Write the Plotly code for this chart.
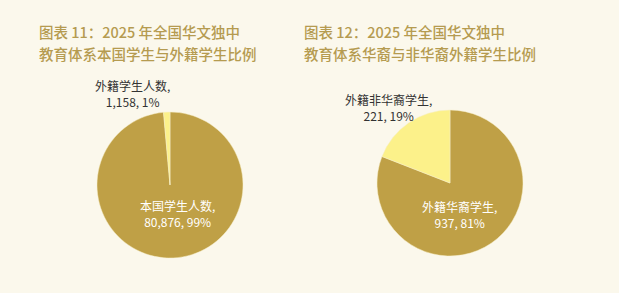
import plotly.graph_objects as go

W, H = 619, 293

# Data
labels1 = ["本国学生人数", "外籍学生人数"]
values1 = [80876, 1158]
pct1 = [99, 1]
labels2 = ["外籍华裔学生", "外籍非华裔学生"]
values2 = [937, 221]
pct2 = [81, 19]
title1_lines = ["图表 11：2025 年全国华文独中", "教育体系本国学生与外籍学生比例"]
title2_lines = ["图表 12：2025 年全国华文独中", "教育体系华裔与非华裔外籍学生比例"]

BROWN = "#BFA046"
YELLOW = "#FCF18A"
BG = "#FBF8EC"
TITLE_C = "#B59B50"
FONT = "Noto Sans CJK SC"


def px_domain(cx, cy, r):
    return dict(x=[(cx - r) / W, (cx + r) / W], y=[(H - (cy + r)) / H, (H - (cy - r)) / H])


fig = go.Figure()
fig.add_trace(go.Pie(labels=labels1, values=values1, sort=False, direction="clockwise", rotation=0,
                     marker=dict(colors=[BROWN, YELLOW], line=dict(color="#F6EFC8", width=0.5)),
                     textinfo="none", hoverinfo="label+value+percent", showlegend=False,
                     domain=px_domain(170, 185, 73)))
fig.add_trace(go.Pie(labels=labels2, values=values2, sort=False, direction="clockwise", rotation=0,
                     marker=dict(colors=[BROWN, YELLOW], line=dict(color="#F6EFC8", width=0.5)),
                     textinfo="none", hoverinfo="label+value+percent", showlegend=False,
                     domain=px_domain(450, 183, 73)))


def fmt(lbl, v, p):
    return f"{lbl},<br>{v:,}, {p}%"


ann = []
# title annotations (one per line)
for x0, lines in [(37, title1_lines), (302, title2_lines)]:
    for yc, t in zip([31, 53], lines):
        ann.append(dict(x=x0 / W, y=1 - yc / H, xref="paper", yref="paper", xanchor="left", yanchor="middle",
                        text=t, showarrow=False, align="left",
                        font=dict(family=FONT, size=14.5, color=TITLE_C, weight=500)))

# slice labels (pixel centers)
label_pos = [
    (labels1[0], values1[0], pct1[0], 177, 213, "#FFFFFF"),
    (labels1[1], values1[1], pct1[1], 132, 93, "#333333"),
    (labels2[0], values2[0], pct2[0], 460, 214, "#FFFFFF"),
    (labels2[1], values2[1], pct2[1], 388, 107, "#333333"),
]
for lbl, v, p, x, y, c in label_pos:
    ann.append(dict(x=x / W, y=1 - y / H, xref="paper", yref="paper", xanchor="center", yanchor="middle",
                    text=fmt(lbl, v, p), showarrow=False, align="center",
                    font=dict(family=FONT, size=12, color=c)))

fig.update_layout(width=W, height=H, margin=dict(l=0, r=0, t=0, b=0),
                  paper_bgcolor=BG, plot_bgcolor=BG, annotations=ann, showlegend=False)

fig.write_html("out.html")
